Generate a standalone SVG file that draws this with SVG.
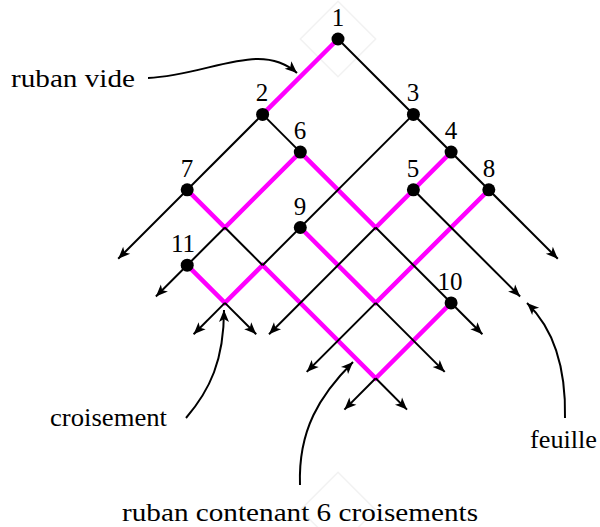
<svg xmlns="http://www.w3.org/2000/svg" width="600" height="527" viewBox="0 0 600 527">
<style>
.blk{fill:none;stroke:#000;stroke-width:2;}
.arr{marker-end:url(#ah);}
.mag{fill:none;stroke:#ff00ff;stroke-width:4.5;stroke-linejoin:miter;}
.dot{fill:#000;}
.lbl{font-size:25px;fill:#000;text-anchor:middle;}
.txt{font-size:25px;fill:#000;}
.faint{fill:none;stroke:#f2f2f2;stroke-width:1.5;}
</style>
<defs>
<marker id="ah" viewBox="-13 -6 14 12" refX="0" refY="0" markerWidth="14" markerHeight="12" markerUnits="userSpaceOnUse" orient="auto">
<path d="M0,0 L-12,-5 L-9,0 L-12,5 Z" fill="#000"/>
</marker>
</defs>
<rect width="600" height="527" fill="#fff"/>
<g id="faint">
<path class="faint" d="M338,1.3 L375.7,39 L338,76.7 L300.3,39 Z"/>
<path class="faint" d="M338,472.3 L375.7,510 L338,547.7 L300.3,510 Z"/>
</g>
<g id="ribbons">
<path class="mag" d="M338,39 L262.6,114.4"/>
<path class="mag" d="M187.2,189.8 L224.9,227.5 L300.3,152.1"/>
<path class="mag" d="M300.3,152.1 L375.7,227.5 L451.1,152.1"/>
<path class="mag" d="M300.3,227.5 L375.7,302.9 L488.8,189.8"/>
<path class="mag" d="M187.2,265.2 L224.9,302.9 L262.6,265.2 L375.7,378.3 L451.1,302.9"/>
</g>
<g id="connectors">
<path class="blk arr" d="M338,39 L557.8,258.8"/>
<path class="blk arr" d="M413.4,189.8 L520.1,296.5"/>
<path class="blk" d="M262.6,114.4 L300.3,152.1"/>
<path class="blk arr" d="M375.7,227.5 L482.4,334.2"/>
<path class="blk arr" d="M375.7,302.9 L444.7,371.9"/>
<path class="blk" d="M224.9,227.5 L262.6,265.2"/>
<path class="blk arr" d="M375.7,378.3 L407,409.6"/>
<path class="blk arr" d="M224.9,302.9 L256.2,334.2"/>
<path class="blk arr" d="M262.6,114.4 L118.2,258.8"/>
<path class="blk arr" d="M224.9,227.5 L155.9,296.5"/>
<path class="blk" d="M413.4,114.4 L262.6,265.2"/>
<path class="blk arr" d="M224.9,302.9 L193.6,334.2"/>
<path class="blk arr" d="M375.7,227.5 L269,334.2"/>
<path class="blk arr" d="M375.7,302.9 L306.7,371.9"/>
<path class="blk arr" d="M375.7,378.3 L344.4,409.6"/>
</g>
<g font-family="'Liberation Serif', 'Times New Roman', serif">
<g id="n1"><circle class="dot" cx="338" cy="39" r="6.5"/><text class="lbl" x="338" y="26">1</text></g>
<g id="n2"><circle class="dot" cx="262.6" cy="114.4" r="6.5"/><text class="lbl" x="262" y="101.4">2</text></g>
<g id="n3"><circle class="dot" cx="413.4" cy="114.4" r="6.5"/><text class="lbl" x="413" y="101.4">3</text></g>
<g id="n4"><circle class="dot" cx="451.1" cy="152.1" r="6.5"/><text class="lbl" x="451" y="139.1">4</text></g>
<g id="n5"><circle class="dot" cx="413.4" cy="189.8" r="6.5"/><text class="lbl" x="413" y="176.8">5</text></g>
<g id="n6"><circle class="dot" cx="300.3" cy="152.1" r="6.5"/><text class="lbl" x="300" y="139.1">6</text></g>
<g id="n7"><circle class="dot" cx="187.2" cy="189.8" r="6.5"/><text class="lbl" x="187" y="176.8">7</text></g>
<g id="n8"><circle class="dot" cx="488.8" cy="189.8" r="6.5"/><text class="lbl" x="489" y="176.8">8</text></g>
<g id="n9"><circle class="dot" cx="300.3" cy="227.5" r="6.5"/><text class="lbl" x="300" y="214.5">9</text></g>
<g id="n10"><circle class="dot" cx="451.1" cy="302.9" r="6.5"/><text class="lbl" x="450" y="290">10</text></g>
<g id="n11"><circle class="dot" cx="187.2" cy="265.2" r="6.5"/><text class="lbl" x="183" y="252.2">11</text></g>
<g id="annotations">
<path class="blk arr" d="M148,78 C210,75 260,40 297,73"/>
<text class="txt" x="11" y="87" textLength="124" lengthAdjust="spacingAndGlyphs">ruban vide</text>
<path class="blk arr" d="M186,418 C210,390 224,360 224,310"/>
<text class="txt" x="50" y="426" textLength="117" lengthAdjust="spacingAndGlyphs">croisement</text>
<path class="blk arr" d="M300,485 C298,430 320,395 353,362"/>
<text class="txt" x="122" y="521" textLength="356" lengthAdjust="spacingAndGlyphs">ruban contenant 6 croisements</text>
<path class="blk arr" d="M565,418 C566,370 555,330 527,303"/>
<text class="txt" x="530" y="448" textLength="67" lengthAdjust="spacingAndGlyphs">feuille</text>
</g>
</g>
</svg>
